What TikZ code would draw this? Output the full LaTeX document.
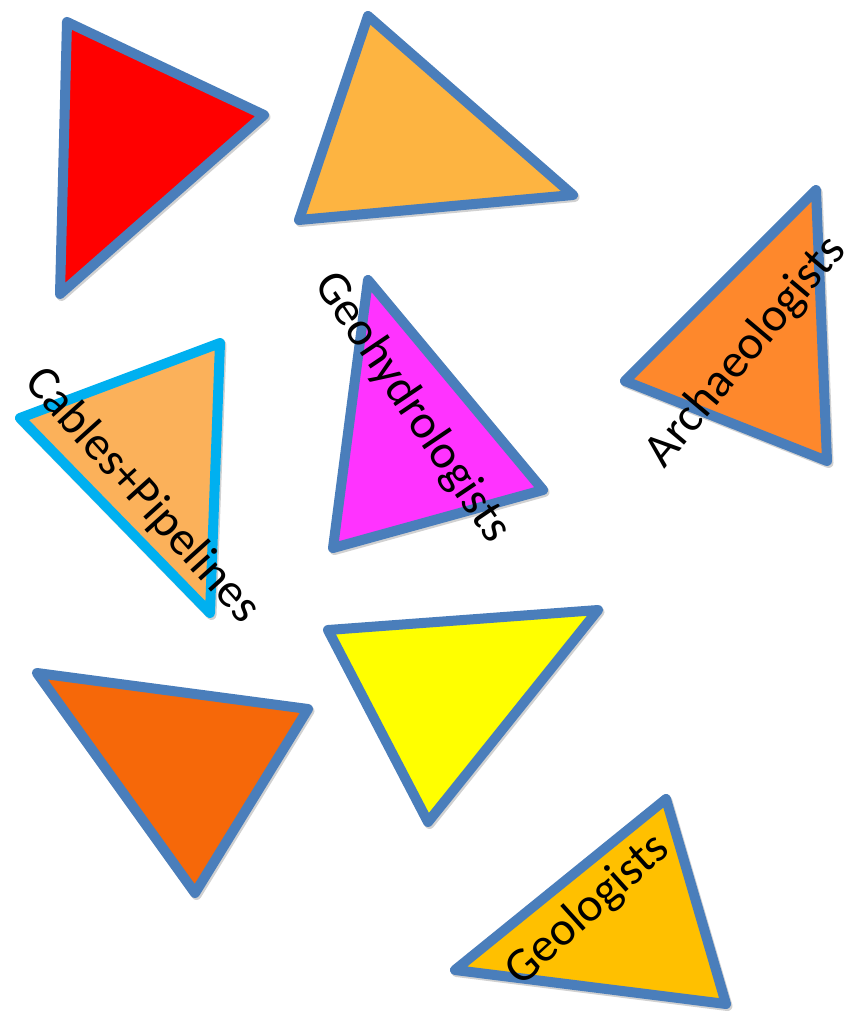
\documentclass[tikz,border=0pt]{standalone}
\usepackage{fontspec}
\setmainfont{Carlito}
\usetikzlibrary{shadows}
\definecolor{blueline}{RGB}{74,126,187}
\definecolor{cyanline}{RGB}{0,176,240}
\definecolor{redfill}{RGB}{255,0,0}
\definecolor{ltorange}{RGB}{253,180,65}
\definecolor{archorange}{RGB}{254,136,44}
\definecolor{cablesfill}{RGB}{251,177,90}
\definecolor{magfill}{RGB}{255,51,255}
\definecolor{darkorange}{RGB}{246,104,9}
\definecolor{yelfill}{RGB}{255,255,0}
\definecolor{geofill}{RGB}{255,192,0}
\tikzset{
  tri/.style={draw=blueline,line width=10pt,line join=round,
    drop shadow={shadow xshift=1.5pt,shadow yshift=-2pt,opacity=0.18,fill=black,draw=black,line width=10pt,line join=round}},
  lbl/.style={font=\fontsize{48}{58}\selectfont,text=black,inner sep=0pt}
}
\begin{document}
\begin{tikzpicture}[x=1pt,y=-1pt]
\useasboundingbox (0,0) rectangle (846,1014);
% red
\draw[tri,fill=redfill] (67,22) -- (264,115) -- (60,294) -- cycle;
% light orange top
\draw[tri,fill=ltorange] (368,16) -- (573,195) -- (299,220) -- cycle;
% archaeologists
\draw[tri,fill=archorange] (816,190) -- (827,461) -- (625,381) -- cycle;
% cables
\draw[tri,fill=cablesfill,draw=cyanline] (220,343) -- (210,613) -- (20,418) -- cycle;
% geohydrologists
\draw[tri,fill=magfill] (368,280) -- (543,490) -- (333,548) -- cycle;
% dark orange
\draw[tri,fill=darkorange] (37,673) -- (308,709) -- (195,893) -- cycle;
% yellow
\draw[tri,fill=yelfill] (328,630) -- (598,610) -- (428,822) -- cycle;
% geologists
\draw[tri,fill=geofill] (666,799) -- (726,1004) -- (455,970) -- cycle;
% labels
\node[lbl,rotate=50] (arch) at (746,352) {Archaeologists};
\node[lbl,rotate=-56] (geoh) at (412,408) {Geohydrologists};
\node[lbl,rotate=-48] (cab) at (142,496) {Cables+Pipelines};
\node[lbl,rotate=42] (geol) at (588,910) {Geologists};
\end{tikzpicture}
\end{document}
